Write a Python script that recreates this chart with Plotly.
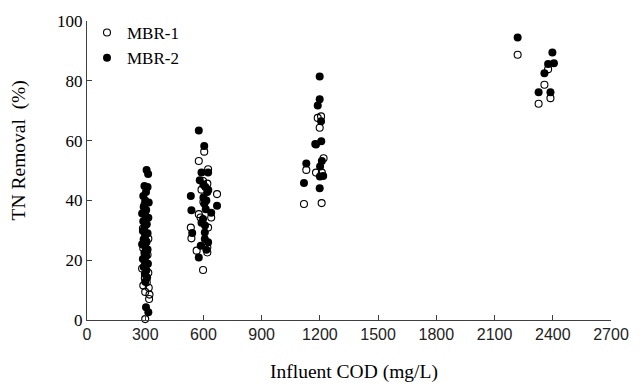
import plotly.graph_objects as go

# ---- data ----
mbr1_cod = [296, 288, 300, 316, 306, 290, 312, 300, 284, 316, 298, 308, 290, 318, 300, 322, 320, 300,
            604, 576, 624, 620, 598, 670, 576, 585, 640, 624, 535, 538, 620, 565, 620, 598, 600, 590,
            1189, 1206, 1199, 1219, 1130, 1180, 1210, 1118, 1209,
            2219, 2376, 2357, 2388, 2327]
mbr1_tn = [38.5, 30.6, 28.9, 27.2, 26.2, 24.0, 21.8, 19.0, 17.2, 15.8, 14.0, 12.6, 11.5, 10.8, 9.4, 8.5, 7.0, 0.3,
           56.3, 53.2, 50.4, 45.6, 46.5, 42.1, 35.4, 34.3, 34.3, 30.9, 30.9, 27.3, 24.3, 23.2, 22.6, 16.7, 39.5, 43.6,
           67.6, 68.1, 64.3, 54.1, 50.2, 49.3, 49.3, 38.8, 39.1,
           88.7, 83.9, 78.7, 74.2, 72.3]

mbr2_cod = [307, 315, 296, 312, 304, 290, 300, 318, 292, 305, 284, 300, 316, 290, 308, 296, 288, 312,
            300, 292, 306, 284, 300, 312, 296, 306, 288, 300, 314, 292, 306, 298, 310, 300, 304, 316,
            576, 604, 590, 624, 581, 610, 535, 620, 600, 615, 605, 670, 538, 640, 612, 598, 590, 608,
            542, 607, 607, 624, 586, 615, 576, 600, 625,
            1199, 1199, 1189, 1206, 1176, 1180, 1207, 1210, 1130, 1201, 1217, 1200, 1118, 1199,
            2219, 2398, 2376, 2406, 2357, 2327, 2388]
mbr2_tn = [50.2, 48.8, 44.8, 44.5, 42.8, 41.5, 40.0, 39.3, 37.8, 36.8, 35.6, 35.0, 34.2, 33.0, 32.0, 31.0, 29.8, 29.0,
           28.2, 27.0, 26.1, 25.3, 24.5, 23.6, 22.4, 21.5, 20.4, 19.6, 18.8, 17.7, 16.6, 15.4, 14.2, 12.8, 4.3, 2.6,
           63.4, 58.2, 49.3, 49.3, 46.7, 44.5, 41.5, 42.8, 41.0, 40.0, 38.9, 38.2, 36.7, 35.9, 37.0, 33.8, 32.5, 31.6,
           29.1, 29.3, 27.1, 26.0, 24.8, 23.5, 20.9, 45.2, 43.5,
           81.4, 73.8, 71.7, 66.5, 58.9, 58.7, 59.8, 53.2, 52.3, 51.3, 48.2, 48.0, 45.8, 44.1,
           94.5, 89.5, 85.6, 85.9, 82.5, 76.2, 76.2]

x_ticks = [0, 300, 600, 900, 1200, 1500, 1800, 2100, 2400, 2700]
y_ticks = [0, 20, 40, 60, 80, 100]

SERIF = "Liberation Serif, Times New Roman, serif"
SANS = "Liberation Sans, Arial, sans-serif"

fig = go.Figure()
fig.add_trace(go.Scatter(
    x=mbr2_cod, y=mbr2_tn, mode="markers", name="MBR-2",
    marker=dict(symbol="circle", size=8, color="black", line=dict(width=0)),
    cliponaxis=False))
fig.add_trace(go.Scatter(
    x=mbr1_cod, y=mbr1_tn, mode="markers", name="MBR-1",
    marker=dict(symbol="circle-open", size=7, color="black", line=dict(width=1.1, color="black")),
    cliponaxis=False))

fig.update_layout(
    width=641, height=390,
    margin=dict(l=87, r=21, t=20, b=70),
    paper_bgcolor="white", plot_bgcolor="white",
    showlegend=True,
    legend=dict(x=0.0, y=1.02, xanchor="left", yanchor="top", traceorder="reversed",
                font=dict(family=SERIF, size=17, color="black"),
                bgcolor="rgba(0,0,0,0)"),
    xaxis=dict(range=[0, 2700], tickvals=x_ticks, ticktext=[str(v) for v in x_ticks],
               showline=True, linecolor="#404040", linewidth=1, showgrid=False, zeroline=False,
               ticks="inside", ticklen=5, tickcolor="#404040",
               tickfont=dict(family=SANS, size=16, color="#222222")),
    yaxis=dict(range=[0, 100], tickvals=y_ticks, ticktext=[str(v) for v in y_ticks],
               showline=True, linecolor="#404040", linewidth=1, showgrid=False, zeroline=False,
               ticks="inside", ticklen=5, tickcolor="#404040",
               tickfont=dict(family=SERIF, size=17, color="black")),
    annotations=[
        dict(text="Influent COD (mg/L)", xref="paper", yref="paper", x=0.51, y=-0.175,
             xanchor="center", yanchor="middle", showarrow=False,
             font=dict(family=SERIF, size=19.5, color="black")),
        dict(text="TN Removal  (%)", xref="paper", yref="paper", x=-0.128, y=0.567,
             xanchor="center", yanchor="middle", showarrow=False, textangle=-90,
             font=dict(family=SERIF, size=19.5, color="black")),
    ],
)

fig.write_html("out.html")
